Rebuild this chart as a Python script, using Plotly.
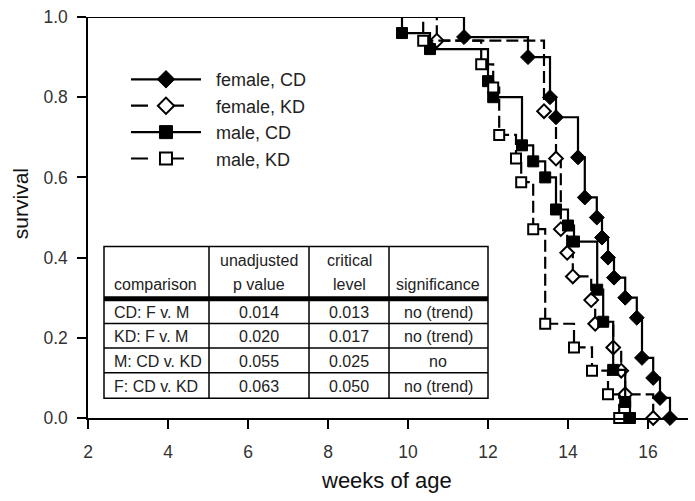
import plotly.graph_objects as go

# ---- data ----
start_week = 2
female_cd_t = [11.4, 13.0, 13.55, 13.7, 14.25, 14.42, 14.72, 14.85, 15.0, 15.15, 15.43, 15.72, 15.85, 16.13, 16.3, 16.55]
female_cd_s = [0.95, 0.90, 0.80, 0.75, 0.65, 0.55, 0.50, 0.45, 0.40, 0.35, 0.30, 0.25, 0.15, 0.10, 0.05, 0.0]
female_kd_t = [10.72, 13.4, 13.7, 13.82, 13.98, 14.12, 14.58, 14.68, 15.13, 15.33, 15.43, 16.13]
female_kd_s = [0.941, 0.765, 0.647, 0.471, 0.412, 0.353, 0.294, 0.235, 0.176, 0.118, 0.059, 0.0]
male_cd_t = [9.85, 10.55, 12.0, 12.13, 12.85, 13.13, 13.43, 13.7, 14.0, 14.15, 14.73, 14.88, 15.13, 15.43, 15.55]
male_cd_s = [0.96, 0.92, 0.84, 0.80, 0.68, 0.64, 0.60, 0.52, 0.48, 0.44, 0.32, 0.24, 0.12, 0.04, 0.0]
male_kd_t = [10.38, 11.83, 12.13, 12.28, 12.7, 12.83, 13.13, 13.43, 14.15, 14.6, 15.0, 15.28]
male_kd_s = [0.941, 0.882, 0.824, 0.706, 0.647, 0.588, 0.471, 0.235, 0.176, 0.118, 0.059, 0.0]

series_names = ["female, CD", "female, KD", "male, CD", "male, KD"]

x_ticks = [2, 4, 6, 8, 10, 12, 14, 16]
y_ticks = [0.0, 0.2, 0.4, 0.6, 0.8, 1.0]

header_line1 = ["", "unadjusted", "critical", ""]
header_line2 = ["comparison", "p value", "level", "significance"]
comparisons = ["CD: F v. M", "KD: F v. M", "M: CD v. KD", "F: CD v. KD"]
p_values = ["0.014", "0.020", "0.055", "0.063"]
critical_levels = ["0.013", "0.017", "0.025", "0.050"]
significance = ["no (trend)", "no (trend)", "no", "no (trend)"]

# ---- layout geometry (pixels of the 695x501 canvas) ----
PL, PR, PT, PB = 88, 688, 11, 418


def px_x(px):
    return (px - PL) / (PR - PL)


def px_y(py):
    return (PB - py) / (PB - PT)


FONT = "Liberation Sans, Arial, sans-serif"
styles = [
    dict(dash="solid", symbol="diamond", fill="black", size=11.5, lw=1),
    dict(dash="12px,5px", symbol="diamond", fill="white", size=10.5, lw=2),
    dict(dash="solid", symbol="square", fill="black", size=11, lw=1),
    dict(dash="12px,5px", symbol="square", fill="white", size=10, lw=2),
]
data = [(female_cd_t, female_cd_s), (female_kd_t, female_kd_s),
        (male_cd_t, male_cd_s), (male_kd_t, male_kd_s)]

fig = go.Figure()

for name, (t, s), st in zip(series_names, data, styles):
    fig.add_trace(go.Scatter(
        x=[start_week] + t, y=[1.0] + s, mode="lines",
        line=dict(color="black", width=2.2, dash=st["dash"], shape="hv"),
        showlegend=False, hoverinfo="skip", cliponaxis=False))
    fig.add_trace(go.Scatter(
        x=t, y=s, mode="markers",
        marker=dict(symbol=st["symbol"], size=st["size"], color=st["fill"],
                    line=dict(color="black", width=st["lw"])),
        showlegend=False, cliponaxis=False))

legend_dash = ["solid", "17px,19px", "solid", "17px,19px"]
for name, st, ld in zip(series_names, styles, legend_dash):
    fig.add_trace(go.Scatter(
        x=[None], y=[None], mode="lines+markers", name="\u00a0\u00a0" + name,
        line=dict(color="black", width=2.2, dash=ld),
        marker=dict(symbol=st["symbol"], size=st["size"] + 2, color=st["fill"],
                    line=dict(color="black", width=st["lw"]))))

# ---- table drawn with shapes and annotations ----
col_edges = [104, 209, 309, 389, 488]
row_edges = [244, 297, 322, 347, 372, 398]
shapes = []
annotations = []
tfont = dict(family=FONT, size=16, color="#222")
shapes.append(dict(type="rect", xref="paper", yref="paper",
                   x0=px_x(col_edges[0]), x1=px_x(col_edges[-1]),
                   y0=px_y(row_edges[-1]), y1=px_y(row_edges[0]),
                   line=dict(color="black", width=1.5), fillcolor="white", layer="below"))
for cx in col_edges[1:-1]:
    shapes.append(dict(type="line", xref="paper", yref="paper",
                       x0=px_x(cx), x1=px_x(cx), y0=px_y(row_edges[-1]), y1=px_y(row_edges[0]),
                       line=dict(color="black", width=1.5)))
for i, ry in enumerate(row_edges[1:-1]):
    shapes.append(dict(type="line", xref="paper", yref="paper",
                       x0=px_x(col_edges[0]), x1=px_x(col_edges[-1]), y0=px_y(ry), y1=px_y(ry),
                       line=dict(color="black", width=5 if i == 0 else 1.5)))

columns = [comparisons, p_values, critical_levels, significance]
for j in range(4):
    left, right = col_edges[j], col_edges[j + 1]
    if j == 0:
        xa, xanchor = px_x(left + 8), "left"
    else:
        xa, xanchor = px_x((left + right) / 2), "center"
    for txt, yy in ((header_line1[j], 258), (header_line2[j], 283)):
        if txt:
            annotations.append(dict(text=txt, x=xa, y=px_y(yy), xref="paper", yref="paper",
                                    xanchor=xanchor, yanchor="middle", showarrow=False, font=tfont))
    for i, txt in enumerate(columns[j]):
        yy = (row_edges[i + 1] + row_edges[i + 2]) / 2 + 1
        annotations.append(dict(text=txt, x=xa, y=px_y(yy), xref="paper", yref="paper",
                                xanchor=xanchor, yanchor="middle", showarrow=False, font=tfont))

annotations += [
    dict(text="survival", xref="paper", yref="paper", x=px_x(20), y=px_y(201),
         textangle=-90, showarrow=False, xanchor="center", yanchor="middle",
         font=dict(family=FONT, size=21, color="#111")),
    dict(text="weeks of age", xref="paper", yref="paper", x=px_x(386), y=px_y(481),
         showarrow=False, xanchor="center", yanchor="middle",
         font=dict(family=FONT, size=22, color="#111")),
]

fig.update_layout(
    width=695, height=501,
    margin=dict(l=PL, r=695 - PR, t=PT, b=501 - PB),
    paper_bgcolor="white", plot_bgcolor="white",
    font=dict(family=FONT, size=17, color="#333"),
    showlegend=True,
    legend=dict(x=0.0633, y=0.89, xanchor="left", yanchor="top",
                bgcolor="rgba(0,0,0,0)", borderwidth=0, itemwidth=70,
                font=dict(family=FONT, size=18, color="#222")),
    xaxis=dict(range=[2, 17], tickvals=x_ticks, ticks="outside", ticklen=9,
               tickwidth=1.5, tickcolor="black", showline=True, linecolor="black",
               linewidth=1.5, showgrid=False, zeroline=False, ticklabelstandoff=8,
               tickfont=dict(size=17.5, color="#333")),
    yaxis=dict(range=[0, 1.0], tickvals=y_ticks, tickformat=".1f", ticks="outside",
               ticklen=9, tickwidth=1.5, tickcolor="black", showline=True,
               linecolor="black", linewidth=1.5, showgrid=False, zeroline=False,
               ticklabelstandoff=6, tickfont=dict(size=17.5, color="#333")),
    shapes=shapes,
    annotations=annotations,
)

fig.write_html("out.html", config={"displayModeBar": False},
               post_script="document.body.style.margin='0px';")
